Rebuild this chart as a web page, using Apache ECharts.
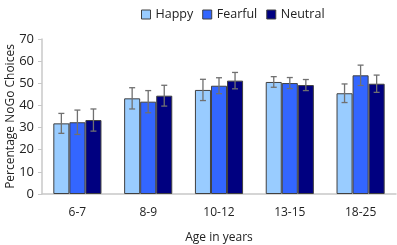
<!DOCTYPE html>
<html>
<head>
<meta charset="utf-8">
<script src="https://cdn.jsdelivr.net/npm/echarts@6/dist/echarts.min.js"></script>
<style>
  html, body { margin: 0; padding: 0; background: #fff; }
  #chart { width: 397px; height: 245px; }
</style>
</head>
<body>
<div id="chart"></div>
<script>
// age groups on the x axis
const ageGroups = ['6-7', '8-9', '10-12', '13-15', '18-25'];
const seriesNames = ['Happy', 'Fearful', 'Neutral'];
const seriesColors = ['#99CCFF', '#3366FF', '#000080'];

// mean % NoGo choices
const happy   = [31.9, 43.2, 47.0, 50.6, 45.5];
const fearful = [32.4, 41.7, 48.9, 50.1, 53.6];
const neutral = [33.4, 44.4, 51.2, 49.2, 49.8];

// error (+/-)
const happyErr   = [4.5, 4.8, 4.8, 2.4, 4.2];
const fearfulErr = [5.5, 5.0, 3.6, 2.5, 4.6];
const neutralErr = [5.0, 4.7, 3.7, 2.5, 3.9];

const yTicks = [0, 10, 20, 30, 40, 50, 60, 70];

const means = [happy, fearful, neutral];
const errs = [happyErr, fearfulErr, neutralErr];
const catGap = 0.32;
const font = 'Open Sans';

const chart = echarts.init(document.getElementById('chart'));

const barSeries = seriesNames.map((name, i) => ({
    name: name,
    type: 'bar',
    data: means[i],
    barGap: '0%',
    barCategoryGap: catGap * 100 + '%',
    itemStyle: { color: seriesColors[i], borderColor: '#404040', borderWidth: 1 },
    z: 2
}));

// error bars drawn on top of each bar
const errSeries = seriesNames.map((name, i) => ({
    name: name + ' err',
    type: 'custom',
    z: 5,
    silent: true,
    data: ageGroups.map((g, k) => [k, means[i][k] - errs[i][k], means[i][k] + errs[i][k]]),
    renderItem: function (params, api) {
        const band = api.size([1, 0])[0];
        const bw = band * (1 - catGap) / 3;
        const x0 = api.coord([api.value(0), 0])[0];
        const cx = x0 + (i - 1) * bw;
        const lo = api.coord([api.value(0), api.value(1)])[1];
        const hi = api.coord([api.value(0), api.value(2)])[1];
        const cap = 3;
        const st = { stroke: '#707070', lineWidth: 1.3 };
        return {
            type: 'group',
            children: [
                { type: 'line', shape: { x1: cx, y1: lo, x2: cx, y2: hi }, style: st },
                { type: 'line', shape: { x1: cx - cap, y1: lo, x2: cx + cap, y2: lo }, style: st },
                { type: 'line', shape: { x1: cx - cap, y1: hi, x2: cx + cap, y2: hi }, style: st }
            ]
        };
    }
}));

chart.setOption({
    animation: false,
    textStyle: { fontFamily: font },
    legend: {
        data: seriesNames,
        top: 3,
        left: 136,
        itemWidth: 9,
        itemHeight: 9,
        itemGap: 9,
        icon: 'rect',
        itemStyle: { borderColor: '#404040', borderWidth: 1 },
        textStyle: { fontSize: 12.5, color: '#222', fontFamily: font }
    },
    grid: { left: 42, right: 1, top: 39, bottom: 51, containLabel: false, outerBoundsMode: 'none' },
    xAxis: {
        type: 'category',
        data: ageGroups,
        name: 'Age in years',
        nameLocation: 'middle',
        nameGap: 38,
        nameMoveOverlap: false,
        nameTextStyle: { fontSize: 12, color: '#222' },
        axisLine: { lineStyle: { color: '#c8c8c8', width: 1.5 } },
        axisTick: { show: false },
        axisLabel: { fontSize: 12, color: '#222', margin: 13 }
    },
    yAxis: {
        type: 'value',
        min: yTicks[0],
        max: yTicks[yTicks.length - 1],
        interval: 10,
        name: 'Percentage NoGo Choices',
        nameLocation: 'middle',
        nameGap: 25,
        nameMoveOverlap: false,
        nameTextStyle: { fontSize: 12, color: '#222' },
        axisLine: { show: true, lineStyle: { color: '#c8c8c8', width: 1.5 } },
        axisTick: { show: true, length: 4, lineStyle: { color: '#c8c8c8' } },
        splitLine: { show: false },
        axisLabel: { fontSize: 13, color: '#222', margin: 8 }
    },
    series: barSeries.concat(errSeries)
});
</script>
</body>
</html>
